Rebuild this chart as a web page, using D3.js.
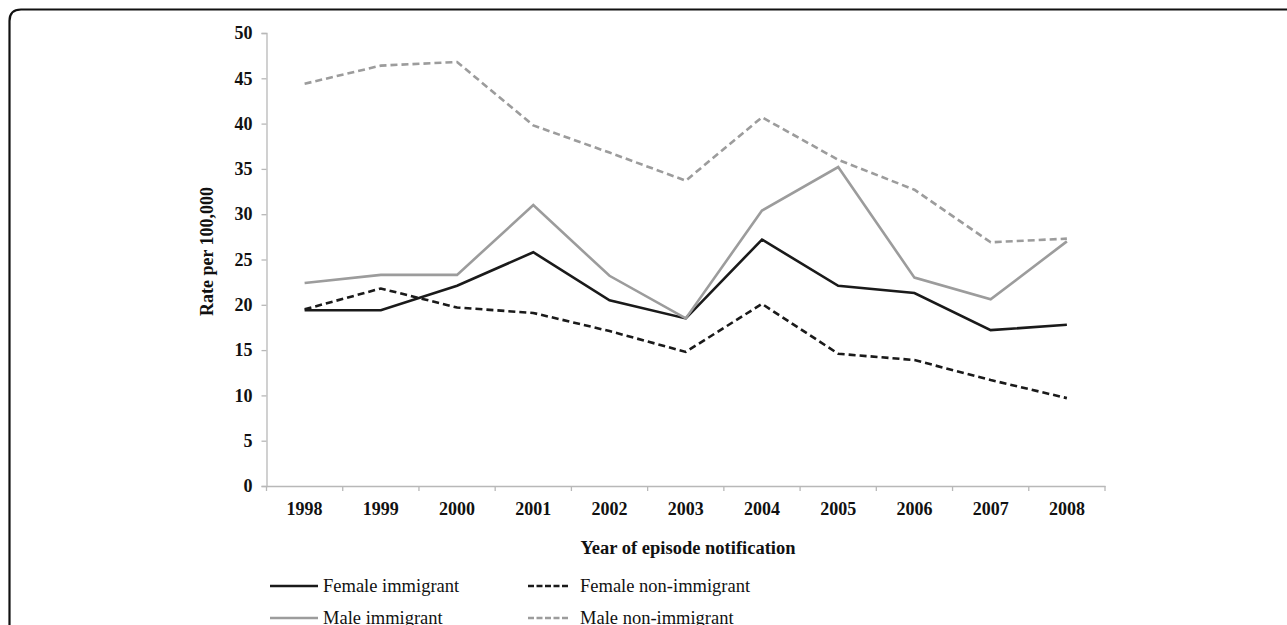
<!DOCTYPE html>
<html>
<head>
<meta charset="utf-8">
<script src="https://cdn.jsdelivr.net/npm/d3@7/dist/d3.min.js"></script>
<style>
  html, body { margin: 0; padding: 0; background: #fff; }
  svg { display: block; }
</style>
</head>
<body>
<svg id="chart" width="1287" height="625"></svg>
<script>
const years = ["1998","1999","2000","2001","2002","2003","2004","2005","2006","2007","2008"];
const yTicks = [0,5,10,15,20,25,30,35,40,45,50];
const femaleImmigrant    = [19.4, 19.4, 22.1, 25.8, 20.5, 18.5, 27.2, 22.1, 21.3, 17.2, 17.8];
const femaleNonImmigrant = [19.5, 21.8, 19.7, 19.1, 17.1, 14.8, 20.1, 14.6, 13.9, 11.7, 9.7];
const maleImmigrant      = [22.4, 23.3, 23.3, 31.0, 23.2, 18.5, 30.4, 35.2, 23.0, 20.6, 27.0];
const maleNonImmigrant   = [44.4, 46.4, 46.8, 39.8, 36.8, 33.7, 40.7, 36.0, 32.7, 26.9, 27.3];
const seriesNames = ["Female immigrant", "Female non-immigrant", "Male immigrant", "Male non-immigrant"];

const series = [
  {name: seriesNames[0], values: femaleImmigrant,    color: "#1a1a1a", dash: null},
  {name: seriesNames[1], values: femaleNonImmigrant, color: "#1a1a1a", dash: "7,4"},
  {name: seriesNames[2], values: maleImmigrant,      color: "#9c9c9c", dash: null},
  {name: seriesNames[3], values: maleNonImmigrant,   color: "#9c9c9c", dash: "7,4"}
];

const svg = d3.select("#chart");
const mLeft = 266.5, mRight = 1105, mTop = 33, mBottom = 486;

// frame
svg.append("path")
  .attr("d", `M9.5,625 V21 Q9.5,9.5 21,9.5 H1287`)
  .attr("fill", "none").attr("stroke", "#111").attr("stroke-width", 2.2);

const x = d3.scaleBand().domain(years).range([mLeft, mRight]);
const y = d3.scaleLinear().domain([0, 50]).range([mBottom, mTop]);

const serif = "'Liberation Serif', 'Times New Roman', serif";

// y axis
const yAxis = svg.append("g").attr("transform", `translate(${mLeft},0)`)
  .call(d3.axisLeft(y).tickValues(yTicks).tickSize(5).tickPadding(9).tickFormat(d3.format("d")));
yAxis.select(".domain").attr("stroke", "#b8b8b8").attr("stroke-width", 1.3);
yAxis.selectAll(".tick line").attr("stroke", "#b8b8b8").attr("stroke-width", 1.3);
yAxis.selectAll(".tick text").attr("font-family", serif).attr("font-weight", "bold")
  .attr("font-size", 18).attr("fill", "#111");

// x axis
const xAxis = svg.append("g").attr("transform", `translate(0,${mBottom})`)
  .call(d3.axisBottom(x).tickSize(0).tickPadding(16));
xAxis.select(".domain").attr("stroke", "#b8b8b8").attr("stroke-width", 1.3);
xAxis.selectAll(".tick text").attr("font-family", serif).attr("font-weight", "bold")
  .attr("font-size", 18).attr("fill", "#111");
// category boundary ticks
const bounds = years.map(d => x(d)).concat([x(years[years.length - 1]) + x.bandwidth()]);
xAxis.selectAll("line.bnd").data(bounds).enter().append("line")
  .attr("class", "bnd")
  .attr("x1", d => d).attr("x2", d => d)
  .attr("y1", 0).attr("y2", 5)
  .attr("stroke", "#b8b8b8").attr("stroke-width", 1.3);

// axis titles
svg.append("text")
  .attr("transform", `translate(207,${(mTop + mBottom) / 2 - 8}) rotate(-90)`)
  .attr("text-anchor", "middle").attr("dominant-baseline", "central")
  .attr("font-family", serif).attr("font-weight", "bold").attr("font-size", 18)
  .attr("fill", "#111").text("Rate per 100,000");

svg.append("text")
  .attr("x", 688).attr("y", 554)
  .attr("text-anchor", "middle")
  .attr("font-family", serif).attr("font-weight", "bold").attr("font-size", 18.5)
  .attr("fill", "#111").text("Year of episode notification");

// lines
const line = d3.line()
  .x((d, i) => x(years[i]) + x.bandwidth() / 2)
  .y(d => y(d));

svg.append("g").selectAll("path").data(series).enter().append("path")
  .attr("d", d => line(d.values))
  .attr("fill", "none")
  .attr("stroke", d => d.color)
  .attr("stroke-width", 2.6)
  .attr("stroke-linejoin", "miter")
  .attr("stroke-dasharray", d => d.dash);

// legend
const legPos = [[270, 586], [528, 586], [270, 618], [528, 618]];
const leg = svg.append("g").selectAll("g").data(series).enter().append("g")
  .attr("transform", (d, i) => `translate(${legPos[i][0]},${legPos[i][1]})`);
leg.append("line")
  .attr("x1", 0).attr("x2", d => d.dash ? 40 : 48).attr("y1", 0).attr("y2", 0)
  .attr("stroke", d => d.color).attr("stroke-width", 2.6)
  .attr("stroke-dasharray", d => d.dash ? "6,2.5" : null);
leg.append("text")
  .attr("x", d => d.dash ? 52 : 53).attr("y", 0).attr("dy", "0.35em")
  .attr("font-family", serif).attr("font-size", 18.5).attr("fill", "#111")
  .text(d => d.name);
</script>
</body>
</html>
